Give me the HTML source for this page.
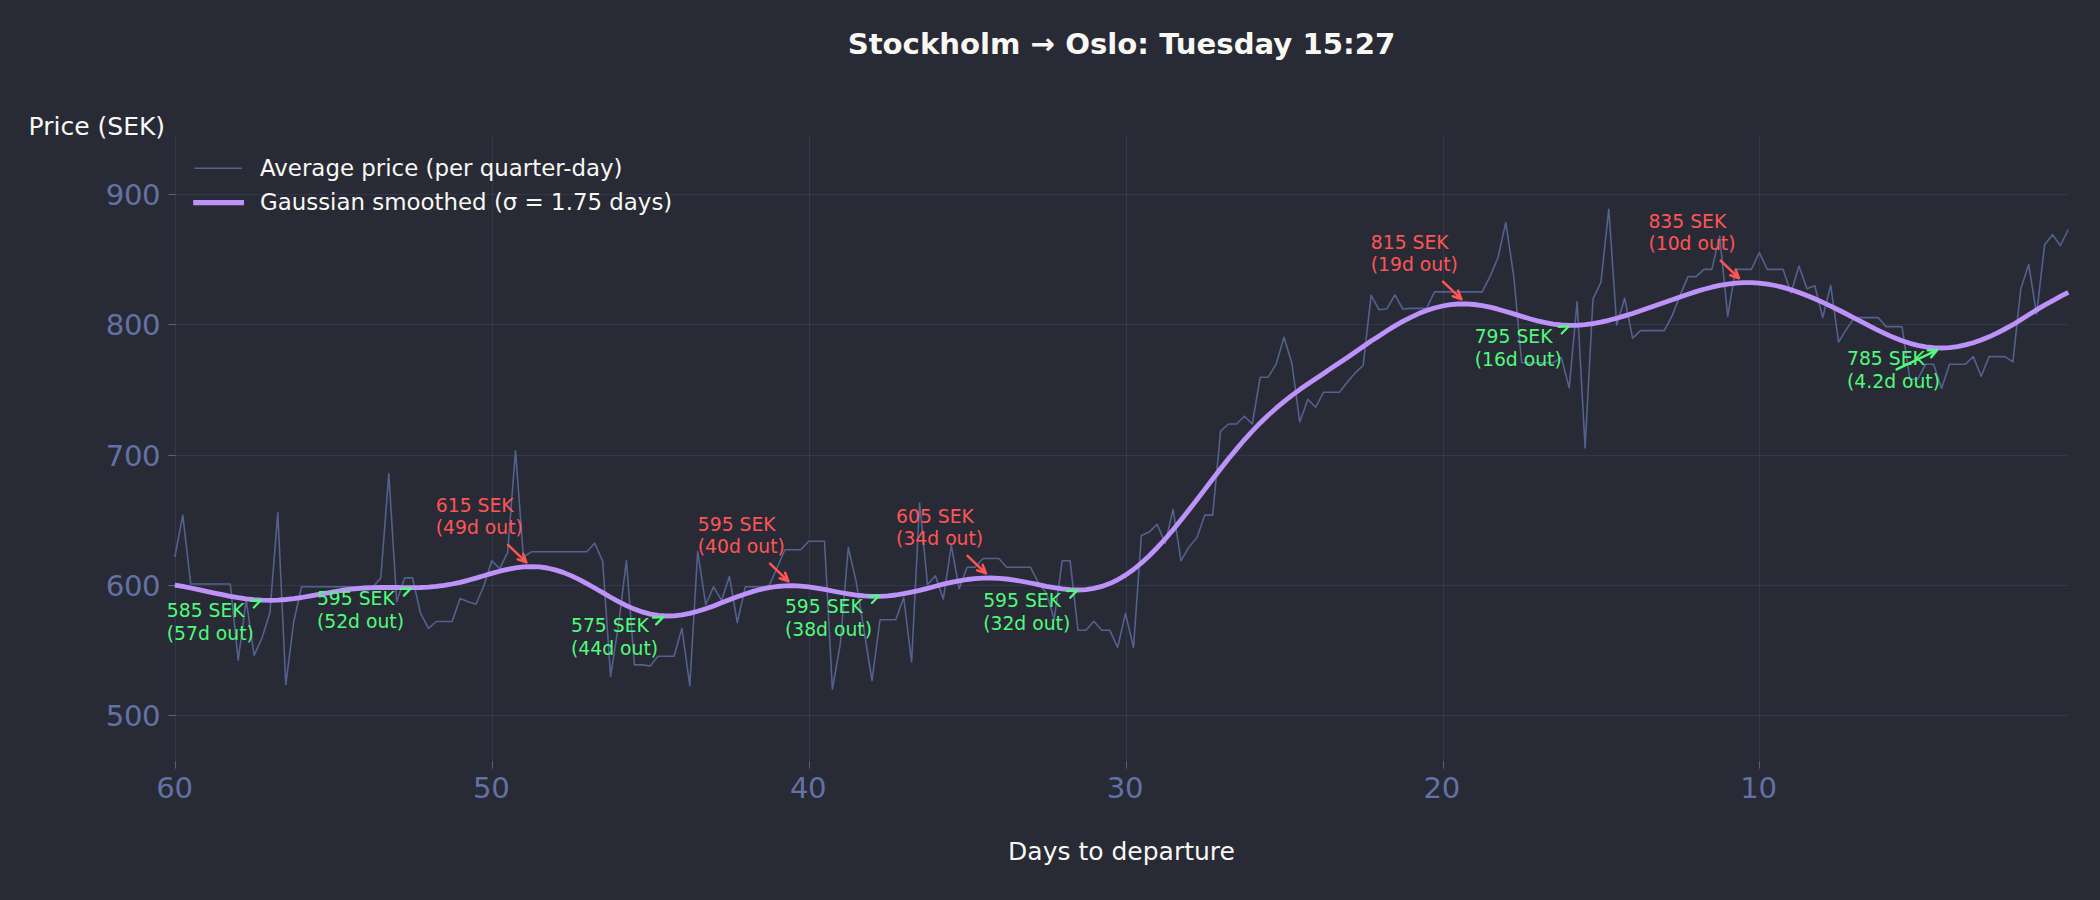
<!DOCTYPE html>
<html lang="en"><head><meta charset="utf-8"><title>Stockholm → Oslo: Tuesday 15:27</title>
<style>
html,body{margin:0;padding:0;background:#282a36;}
body{width:2100px;height:900px;overflow:hidden;}
svg{display:block;font-family:"DejaVu Sans","Liberation Sans",sans-serif;}
</style></head><body>
<svg width="2100" height="900" viewBox="0 0 2100 900">
<rect width="2100" height="900" fill="#282a36"/>
<g stroke="#6272a4" stroke-opacity="0.18" stroke-width="1" fill="none">
<path d="M175.5,136.6 V761.2"/>
<path d="M492.5,136.6 V761.2"/>
<path d="M809.5,136.6 V761.2"/>
<path d="M1126.5,136.6 V761.2"/>
<path d="M1443.5,136.6 V761.2"/>
<path d="M1759.5,136.6 V761.2"/>
<path d="M175.5,194.5 H2068.6"/>
<path d="M175.5,324.5 H2068.6"/>
<path d="M175.5,455.5 H2068.6"/>
<path d="M175.5,585.5 H2068.6"/>
<path d="M175.5,715.5 H2068.6"/>
</g>
<g stroke="#536190" stroke-width="1" fill="none">
<path d="M175.5,761.2 v7.4"/>
<path d="M492.5,761.2 v7.4"/>
<path d="M809.5,761.2 v7.4"/>
<path d="M1126.5,761.2 v7.4"/>
<path d="M1443.5,761.2 v7.4"/>
<path d="M1759.5,761.2 v7.4"/>
<path d="M175.5,194.5 h-7.3"/>
<path d="M175.5,324.5 h-7.3"/>
<path d="M175.5,455.5 h-7.3"/>
<path d="M175.5,585.5 h-7.3"/>
<path d="M175.5,715.5 h-7.3"/>
</g>
<g fill="#6272a4" font-size="29.17px" letter-spacing="-0.35">
<text x="174.5" y="798.3" text-anchor="middle">60</text>
<text x="491.3" y="798.3" text-anchor="middle">50</text>
<text x="808.1" y="798.3" text-anchor="middle">40</text>
<text x="1124.9" y="798.3" text-anchor="middle">30</text>
<text x="1441.7" y="798.3" text-anchor="middle">20</text>
<text x="1758.5" y="798.3" text-anchor="middle">10</text>
<text x="160.3" y="204.6" text-anchor="end">900</text>
<text x="160.3" y="334.6" text-anchor="end">800</text>
<text x="160.3" y="465.6" text-anchor="end">700</text>
<text x="160.3" y="595.6" text-anchor="end">600</text>
<text x="160.3" y="725.6" text-anchor="end">500</text>
</g>
<path d="M174.8,557.0 L182.8,515.1 L190.7,584.0 L198.6,584.0 L206.5,584.0 L214.5,584.0 L222.4,584.0 L230.3,584.0 L238.2,660.2 L246.2,600.0 L254.1,655.3 L262.0,638.0 L269.9,612.8 L277.8,512.8 L285.8,684.5 L293.7,622.0 L301.6,586.8 L309.5,586.8 L317.5,586.8 L325.4,586.8 L333.3,586.8 L341.2,586.8 L349.1,586.8 L357.1,586.8 L365.0,586.8 L372.9,586.8 L380.8,578.0 L388.8,473.8 L396.7,601.8 L404.6,577.9 L412.5,577.9 L420.4,612.8 L428.4,628.4 L436.3,621.5 L444.2,621.5 L452.1,621.5 L460.1,598.4 L468.0,601.8 L475.9,604.2 L483.8,586.0 L491.8,560.8 L499.7,568.6 L507.6,552.7 L515.5,450.7 L523.4,557.0 L531.4,551.8 L539.3,551.8 L547.2,551.8 L555.1,551.8 L563.1,551.8 L571.0,551.8 L578.9,551.8 L586.8,551.8 L594.7,543.2 L602.7,561.4 L610.6,676.4 L618.5,625.0 L626.4,560.8 L634.4,664.9 L642.3,664.9 L650.2,666.0 L658.1,656.2 L666.0,656.2 L674.0,656.2 L681.9,628.4 L689.8,685.7 L697.7,551.3 L705.7,604.7 L713.6,586.8 L721.5,600.4 L729.4,576.4 L737.3,622.7 L745.3,586.8 L753.2,586.8 L761.1,586.8 L769.0,586.0 L777.0,568.0 L784.9,549.8 L792.8,549.8 L800.7,549.8 L808.7,541.2 L816.6,541.2 L824.5,541.2 L832.4,689.1 L840.3,643.8 L848.3,547.5 L856.2,581.6 L864.1,631.0 L872.0,680.5 L880.0,619.8 L887.9,619.8 L895.8,619.8 L903.7,597.5 L911.6,662.0 L919.6,503.0 L927.5,584.5 L935.4,575.8 L943.3,599.0 L951.3,545.5 L959.2,588.8 L967.1,567.2 L975.0,567.2 L982.9,558.5 L990.9,558.5 L998.8,558.5 L1006.7,567.2 L1014.6,567.2 L1022.6,567.2 L1030.5,567.2 L1038.4,583.0 L1046.3,593.0 L1054.2,619.2 L1062.2,560.8 L1070.1,560.8 L1078.0,630.2 L1085.9,630.2 L1093.9,621.2 L1101.8,630.2 L1109.7,630.2 L1117.6,647.5 L1125.5,613.4 L1133.5,647.5 L1141.4,535.4 L1149.3,531.9 L1157.2,524.4 L1165.2,543.5 L1173.1,509.4 L1181.0,560.8 L1188.9,546.9 L1196.9,537.7 L1204.8,515.1 L1212.7,515.1 L1220.6,431.2 L1228.5,424.0 L1236.5,424.0 L1244.4,416.2 L1252.3,424.0 L1260.2,377.2 L1268.2,377.2 L1276.1,364.2 L1284.0,337.3 L1291.9,363.3 L1299.8,422.0 L1307.8,399.4 L1315.7,407.2 L1323.6,392.2 L1331.5,392.2 L1339.5,392.2 L1347.4,382.0 L1355.3,372.8 L1363.2,365.3 L1371.1,295.4 L1379.1,309.8 L1387.0,308.7 L1394.9,294.8 L1402.8,309.0 L1410.8,308.4 L1418.7,308.4 L1426.6,308.4 L1434.5,291.9 L1442.5,291.9 L1450.4,291.9 L1458.3,291.9 L1466.2,291.9 L1474.1,291.9 L1482.1,291.9 L1490.0,276.6 L1497.9,257.8 L1505.8,222.5 L1513.8,276.6 L1521.7,362.7 L1529.6,362.7 L1537.5,362.7 L1545.4,362.7 L1553.4,362.7 L1561.3,357.5 L1569.2,387.9 L1577.1,301.7 L1585.1,448.0 L1593.0,298.8 L1600.9,282.4 L1608.8,209.2 L1616.7,324.9 L1624.7,298.3 L1632.6,338.2 L1640.5,330.6 L1648.4,330.6 L1656.4,330.6 L1664.3,330.6 L1672.2,315.6 L1680.1,295.4 L1688.0,276.6 L1696.0,276.6 L1703.9,269.4 L1711.8,269.4 L1719.7,236.1 L1727.7,316.2 L1735.6,269.4 L1743.5,269.4 L1751.4,269.4 L1759.3,252.6 L1767.3,269.4 L1775.2,269.4 L1783.1,269.4 L1791.0,293.0 L1799.0,265.9 L1806.9,288.7 L1814.8,285.8 L1822.7,317.6 L1830.7,285.3 L1838.6,342.2 L1846.5,329.2 L1854.4,317.6 L1862.3,317.6 L1870.3,317.6 L1878.2,317.6 L1886.1,326.6 L1894.0,326.6 L1902.0,326.6 L1909.9,379.2 L1917.8,379.2 L1925.7,364.2 L1933.6,364.2 L1941.6,388.4 L1949.5,364.2 L1957.4,364.2 L1965.3,364.2 L1973.3,356.6 L1981.2,376.3 L1989.1,356.6 L1997.0,356.6 L2004.9,356.6 L2012.9,361.8 L2020.8,288.7 L2028.7,264.5 L2036.6,314.2 L2044.6,244.8 L2052.5,234.7 L2060.4,245.4 L2068.3,229.5" fill="none" stroke="#53618c" stroke-width="1.6" stroke-linejoin="round"/>
<path d="M174.8,585.1 L182.8,586.4 L190.7,588.0 L198.6,589.7 L206.5,591.4 L214.5,593.1 L222.4,594.7 L230.3,596.3 L238.2,597.7 L246.2,598.8 L254.1,599.7 L262.0,600.2 L269.9,600.4 L277.8,600.1 L285.8,599.5 L293.7,598.6 L301.6,597.5 L309.5,596.1 L317.5,594.7 L325.4,593.3 L333.3,591.8 L341.2,590.5 L349.1,589.4 L357.1,588.6 L365.0,588.0 L372.9,587.6 L380.8,587.5 L388.8,587.4 L396.7,587.5 L404.6,587.6 L412.5,587.6 L420.4,587.5 L428.4,587.1 L436.3,586.4 L444.2,585.4 L452.1,584.0 L460.1,582.3 L468.0,580.3 L475.9,578.1 L483.8,575.7 L491.8,573.4 L499.7,571.2 L507.6,569.3 L515.5,567.8 L523.4,566.9 L531.4,566.6 L539.3,566.9 L547.2,568.0 L555.1,569.9 L563.1,572.4 L571.0,575.6 L578.9,579.4 L586.8,583.6 L594.7,588.0 L602.7,592.6 L610.6,597.2 L618.5,601.6 L626.4,605.6 L634.4,609.1 L642.3,611.9 L650.2,614.1 L658.1,615.4 L666.0,616.0 L674.0,615.9 L681.9,614.9 L689.8,613.4 L697.7,611.3 L705.7,608.7 L713.6,605.9 L721.5,602.8 L729.4,599.7 L737.3,596.8 L745.3,594.0 L753.2,591.4 L761.1,589.3 L769.0,587.7 L777.0,586.5 L784.9,585.9 L792.8,585.7 L800.7,586.1 L808.7,586.9 L816.6,588.1 L824.5,589.4 L832.4,591.0 L840.3,592.5 L848.3,593.9 L856.2,595.1 L864.1,595.9 L872.0,596.4 L880.0,596.4 L887.9,595.9 L895.8,595.0 L903.7,593.7 L911.6,592.1 L919.6,590.3 L927.5,588.3 L935.4,586.2 L943.3,584.2 L951.3,582.4 L959.2,580.8 L967.1,579.5 L975.0,578.6 L982.9,578.1 L990.9,578.0 L998.8,578.3 L1006.7,579.0 L1014.6,580.1 L1022.6,581.5 L1030.5,583.0 L1038.4,584.6 L1046.3,586.3 L1054.2,587.7 L1062.2,588.9 L1070.1,589.7 L1078.0,590.0 L1085.9,589.6 L1093.9,588.4 L1101.8,586.4 L1109.7,583.6 L1117.6,579.8 L1125.5,575.1 L1133.5,569.5 L1141.4,563.0 L1149.3,555.7 L1157.2,547.7 L1165.2,539.0 L1173.1,529.8 L1181.0,520.1 L1188.9,510.1 L1196.9,499.8 L1204.8,489.4 L1212.7,479.0 L1220.6,468.8 L1228.5,458.7 L1236.5,449.1 L1244.4,439.8 L1252.3,431.1 L1260.2,422.9 L1268.2,415.2 L1276.1,408.2 L1284.0,401.6 L1291.9,395.4 L1299.8,389.6 L1307.8,384.1 L1315.7,378.7 L1323.6,373.4 L1331.5,368.1 L1339.5,362.8 L1347.4,357.4 L1355.3,352.0 L1363.2,346.5 L1371.1,341.1 L1379.1,335.9 L1387.0,330.8 L1394.9,325.9 L1402.8,321.4 L1410.8,317.3 L1418.7,313.6 L1426.6,310.5 L1434.5,308.0 L1442.5,306.0 L1450.4,304.7 L1458.3,304.0 L1466.2,303.9 L1474.1,304.5 L1482.1,305.6 L1490.0,307.2 L1497.9,309.2 L1505.8,311.5 L1513.8,313.9 L1521.7,316.4 L1529.6,318.8 L1537.5,320.9 L1545.4,322.7 L1553.4,324.1 L1561.3,325.0 L1569.2,325.4 L1577.1,325.3 L1585.1,324.6 L1593.0,323.6 L1600.9,322.1 L1608.8,320.3 L1616.7,318.2 L1624.7,315.9 L1632.6,313.5 L1640.5,310.8 L1648.4,308.1 L1656.4,305.3 L1664.3,302.5 L1672.2,299.7 L1680.1,296.9 L1688.0,294.2 L1696.0,291.6 L1703.9,289.3 L1711.8,287.2 L1719.7,285.4 L1727.7,284.1 L1735.6,283.1 L1743.5,282.6 L1751.4,282.6 L1759.3,283.1 L1767.3,284.1 L1775.2,285.5 L1783.1,287.4 L1791.0,289.8 L1799.0,292.5 L1806.9,295.5 L1814.8,298.8 L1822.7,302.4 L1830.7,306.1 L1838.6,310.0 L1846.5,314.0 L1854.4,318.1 L1862.3,322.2 L1870.3,326.3 L1878.2,330.3 L1886.1,334.1 L1894.0,337.6 L1902.0,340.7 L1909.9,343.3 L1917.8,345.3 L1925.7,346.8 L1933.6,347.7 L1941.6,348.0 L1949.5,347.7 L1957.4,346.6 L1965.3,344.9 L1973.3,342.7 L1981.2,340.0 L1989.1,336.8 L1997.0,333.1 L2004.9,329.0 L2012.9,324.7 L2020.8,319.7 L2028.7,314.8 L2036.6,309.9 L2044.6,305.1 L2052.5,300.8 L2060.4,296.4 L2068.3,292.3" fill="none" stroke="#bd93f9" stroke-width="4.8" stroke-linejoin="round" stroke-linecap="butt"/>
<path d="M517.7,559.4 L526.4,562.4 M523.1,553.8 L526.4,562.4 M508.0,544.8 L526.4,562.4" fill="none" stroke="#ff5555" stroke-width="2.5" stroke-linecap="round" stroke-linejoin="round"/>
<text fill="#ff5555" font-size="18.75px"><tspan x="435.8" y="511.8">615 SEK</tspan><tspan x="435.8" y="534.3">(49d out)</tspan></text>
<path d="M779.7,578.3 L788.4,581.3 M785.1,572.7 L788.4,581.3 M770.0,563.7 L788.4,581.3" fill="none" stroke="#ff5555" stroke-width="2.5" stroke-linecap="round" stroke-linejoin="round"/>
<text fill="#ff5555" font-size="18.75px"><tspan x="697.8" y="530.7">595 SEK</tspan><tspan x="697.8" y="553.2">(40d out)</tspan></text>
<path d="M977.2,570.4 L985.9,573.4 M982.6,564.8 L985.9,573.4 M967.5,555.8 L985.9,573.4" fill="none" stroke="#ff5555" stroke-width="2.5" stroke-linecap="round" stroke-linejoin="round"/>
<text fill="#ff5555" font-size="18.75px"><tspan x="896.1" y="522.8">605 SEK</tspan><tspan x="896.1" y="545.3">(34d out)</tspan></text>
<path d="M1452.7,296.2 L1461.4,299.2 M1458.1,290.6 L1461.4,299.2 M1443.0,281.6 L1461.4,299.2" fill="none" stroke="#ff5555" stroke-width="2.5" stroke-linecap="round" stroke-linejoin="round"/>
<text fill="#ff5555" font-size="18.75px"><tspan x="1370.8" y="248.6">815 SEK</tspan><tspan x="1370.8" y="271.1">(19d out)</tspan></text>
<path d="M1730.3,275.2 L1739.0,278.2 M1735.7,269.6 L1739.0,278.2 M1720.6,260.6 L1739.0,278.2" fill="none" stroke="#ff5555" stroke-width="2.5" stroke-linecap="round" stroke-linejoin="round"/>
<text fill="#ff5555" font-size="18.75px"><tspan x="1648.4" y="227.6">835 SEK</tspan><tspan x="1648.4" y="250.1">(10d out)</tspan></text>
<path d="M253.8,607.5 L260.9,600.2 M250.7,600.8 L260.9,600.2" fill="none" stroke="#50fa7b" stroke-width="2.3" stroke-linecap="round" stroke-linejoin="round"/>
<text fill="#50fa7b" font-size="18.75px"><tspan x="166.8" y="616.6">585 SEK</tspan><tspan x="166.8" y="639.5">(57d out)</tspan></text>
<path d="M403.9,595.6 L411.0,588.3 M400.8,588.9 L411.0,588.3" fill="none" stroke="#50fa7b" stroke-width="2.3" stroke-linecap="round" stroke-linejoin="round"/>
<text fill="#50fa7b" font-size="18.75px"><tspan x="316.9" y="604.7">595 SEK</tspan><tspan x="316.9" y="627.6">(52d out)</tspan></text>
<path d="M656.1,624.4 L663.2,617.1 M653.0,617.7 L663.2,617.1" fill="none" stroke="#50fa7b" stroke-width="2.3" stroke-linecap="round" stroke-linejoin="round"/>
<text fill="#50fa7b" font-size="18.75px"><tspan x="571.0" y="632.3">575 SEK</tspan><tspan x="571.0" y="655.2">(44d out)</tspan></text>
<path d="M871.9,603.0 L879.0,595.7 M868.8,596.3 L879.0,595.7" fill="none" stroke="#50fa7b" stroke-width="2.3" stroke-linecap="round" stroke-linejoin="round"/>
<text fill="#50fa7b" font-size="18.75px"><tspan x="784.9" y="612.7">595 SEK</tspan><tspan x="784.9" y="635.6">(38d out)</tspan></text>
<path d="M1070.2,597.7 L1077.3,590.4 M1067.1,591.0 L1077.3,590.4" fill="none" stroke="#50fa7b" stroke-width="2.3" stroke-linecap="round" stroke-linejoin="round"/>
<text fill="#50fa7b" font-size="18.75px"><tspan x="983.2" y="606.8">595 SEK</tspan><tspan x="983.2" y="629.7">(32d out)</tspan></text>
<path d="M1561.7,333.5 L1568.8,326.2 M1558.6,326.8 L1568.8,326.2" fill="none" stroke="#50fa7b" stroke-width="2.3" stroke-linecap="round" stroke-linejoin="round"/>
<text fill="#50fa7b" font-size="18.75px"><tspan x="1474.7" y="342.6">795 SEK</tspan><tspan x="1474.7" y="365.5">(16d out)</tspan></text>
<path d="M1931.2,357.2 L1937.0,350.1 M1927.8,350.2 L1937.0,350.1 M1896.6,369.4 L1937.0,350.1" fill="none" stroke="#50fa7b" stroke-width="2.5" stroke-linecap="round" stroke-linejoin="round"/>
<text fill="#50fa7b" font-size="18.75px"><tspan x="1847.0" y="364.8">785 SEK</tspan><tspan x="1847.0" y="387.7">(4.2d out)</tspan></text>
<path d="M194.3,168.2 H242" stroke="#53618c" stroke-width="1.6"/>
<path d="M193.2,202.7 H244" stroke="#bd93f9" stroke-width="5.2"/>
<g fill="#f8f8f2" font-size="22.9px"><text x="260" y="176">Average price (per quarter-day)</text><text x="260" y="210.3">Gaussian smoothed (σ = 1.75 days)</text></g>
<text x="28.6" y="135" fill="#f8f8f2" font-size="25px">Price (SEK)</text>
<text x="1121.5" y="860" fill="#f8f8f2" font-size="25px" text-anchor="middle">Days to departure</text>
<text x="1121.5" y="54.3" fill="#f8f8f2" font-size="29.17px" font-weight="bold" text-anchor="middle">Stockholm → Oslo: Tuesday 15:27</text>
</svg>
</body></html>
